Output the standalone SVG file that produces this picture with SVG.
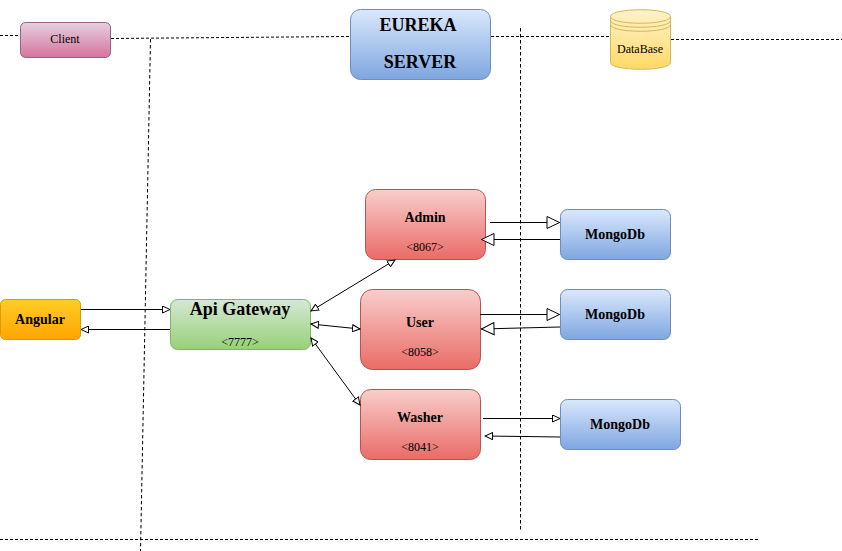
<svg xmlns="http://www.w3.org/2000/svg" width="842" height="551" viewBox="0 0 842 551">
<style>
text{font-family:"Liberation Serif","Times New Roman",serif;fill:#000;text-anchor:middle}
.s{font-size:12px}
.m{font-size:14px;font-weight:bold}
.l{font-size:18px;font-weight:bold}
.d{fill:none;stroke:#000;stroke-width:1;stroke-dasharray:3 2}
.v{fill:none;stroke:#000;stroke-width:1;stroke-dasharray:3.500 2.500}
.c{fill:none;stroke:#000;stroke-width:1}
.hw{fill:#fff;stroke:#000;stroke-width:1}
.red{fill:url(#gr);stroke:#b85450}
.blue{fill:url(#gb);stroke:#6c8ebf}
</style>
<defs>
<linearGradient id="gr" x1="0" y1="0" x2="0" y2="1"><stop offset="0" stop-color="#f8cecc"/><stop offset="1" stop-color="#ea6b66"/></linearGradient>
<linearGradient id="gb" x1="0" y1="0" x2="0" y2="1"><stop offset="0" stop-color="#dae8fc"/><stop offset="1" stop-color="#7ea6e0"/></linearGradient>
<linearGradient id="gg" x1="0" y1="0" x2="0" y2="1"><stop offset="0" stop-color="#d5e8d4"/><stop offset="1" stop-color="#97d077"/></linearGradient>
<linearGradient id="go" x1="0" y1="0" x2="0" y2="1"><stop offset="0" stop-color="#ffcd28"/><stop offset="1" stop-color="#ffa500"/></linearGradient>
<linearGradient id="gp" x1="0" y1="0" x2="0" y2="1"><stop offset="0" stop-color="#e6d0de"/><stop offset="1" stop-color="#d5739d"/></linearGradient>
<linearGradient id="gy" x1="0" y1="0" x2="0" y2="1"><stop offset="0" stop-color="#fff2cc"/><stop offset="1" stop-color="#ffd966"/></linearGradient>
<marker id="a" viewBox="0 0 9 8" refX="8" refY="4" markerWidth="9" markerHeight="8" markerUnits="userSpaceOnUse" orient="auto-start-reverse"><path d="M0.500 0.500L8 4L0.500 7.500Z" class="hw"/></marker>
<marker id="A" viewBox="0 0 15 15" refX="14" refY="7" markerWidth="15" markerHeight="15" markerUnits="userSpaceOnUse" orient="auto-start-reverse"><path d="M1 1L13.500 7L1 13Z" class="hw"/></marker>
</defs>
<g id="client"><rect x="20.500" y="22.500" width="90" height="35" rx="5" fill="url(#gp)" stroke="#996185"/><text class="s" x="65" y="43">Client</text></g>
<g id="eureka"><rect x="350.500" y="9.500" width="140" height="70" rx="10" class="blue"/><text class="l" x="418" y="31">EUREKA</text><text class="l" x="420" y="68">SERVER</text></g>
<g id="database"><path d="M610.500 16.500C610.500 7.500 670.500 7.500 670.500 16.500V62.500C670.500 71.500 610.500 71.500 610.500 62.500Z" fill="url(#gy)" stroke="#d6b656"/><path d="M610.500 16.500C610.500 25.500 670.500 25.500 670.500 16.500M610.500 20.500C610.500 29.500 670.500 29.500 670.500 20.500M610.500 24.500C610.500 33.500 670.500 33.500 670.500 24.500" fill="none" stroke="#d6b656"/><text class="s" x="640" y="53">DataBase</text></g>
<g id="angular"><rect x="0.500" y="299.500" width="80" height="40" rx="5" fill="url(#go)" stroke="#d79b00"/><text class="m" x="40" y="324">Angular</text></g>
<g id="gateway"><rect x="170.500" y="299.500" width="140" height="50" rx="7" fill="url(#gg)" stroke="#82b366"/><text class="l" x="240" y="315">Api Gateway</text><text class="s" x="240" y="346">&lt;7777&gt;</text></g>
<g id="admin"><rect x="365.500" y="189.500" width="120" height="70" rx="10" class="red"/><text class="m" x="425" y="222">Admin</text><text class="s" x="425" y="251">&lt;8067&gt;</text></g>
<g id="user"><rect x="360.500" y="289.500" width="120" height="80" rx="12" class="red"/><text class="m" x="420" y="327">User</text><text class="s" x="420" y="356">&lt;8058&gt;</text></g>
<g id="washer"><rect x="360.500" y="389.500" width="120" height="70" rx="10" class="red"/><text class="m" x="420" y="422">Washer</text><text class="s" x="420" y="451">&lt;8041&gt;</text></g>
<g id="mongo1"><rect x="560.500" y="209.500" width="110" height="50" rx="7" class="blue"/><text class="m" x="615" y="239">MongoDb</text></g>
<g id="mongo2"><rect x="560.500" y="289.500" width="110" height="50" rx="7" class="blue"/><text class="m" x="615" y="319">MongoDb</text></g>
<g id="mongo3"><rect x="560.500" y="399.500" width="120" height="50" rx="7" class="blue"/><text class="m" x="620" y="429">MongoDb</text></g>
<g id="connectors">
<path class="d" d="M0 35.500H20M111 38.500L350 36.500M491 36.500H610M671 39.500H842M0 539.500H758"/>
<path class="v" d="M150.500 39L140.500 551M520.500 28V530"/>
<path class="c" marker-end="url(#a)" d="M81 309.500H170"/>
<path class="c" marker-end="url(#a)" d="M170 329.500H81"/>
<path class="c" marker-start="url(#a)" marker-end="url(#a)" d="M311 311L395 260"/>
<path class="c" marker-start="url(#a)" marker-end="url(#a)" d="M311 324L360 329"/>
<path class="c" marker-start="url(#a)" marker-end="url(#a)" d="M311 338L360 405"/>
<path class="c" marker-end="url(#A)" d="M490 222.500H560"/>
<path class="c" marker-end="url(#A)" d="M560 239.500H481"/>
<path class="c" marker-end="url(#A)" d="M480 314.500H560"/>
<path class="c" marker-end="url(#A)" d="M560 327L481 329"/>
<path class="c" marker-end="url(#a)" d="M483 418.500H560"/>
<path class="c" marker-end="url(#a)" d="M560 437L485 436"/>
</g>
</svg>
